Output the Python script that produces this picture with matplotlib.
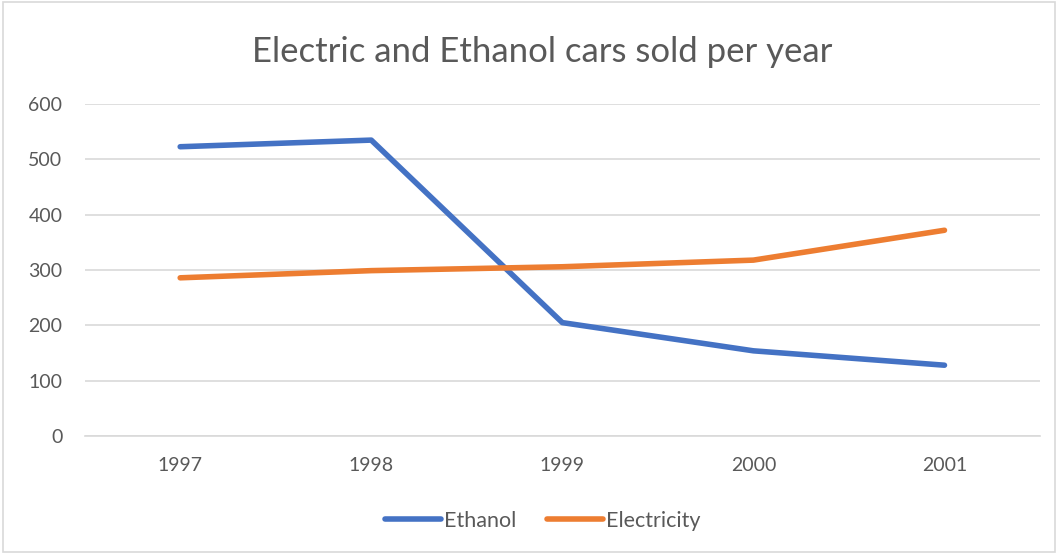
import matplotlib.pyplot as plt
from matplotlib.patches import Rectangle

# Yearly sales
years = ["1997", "1998", "1999", "2000", "2001"]
ethanol = [523, 535, 205, 154, 128]
electricity = [286, 299, 306, 318, 372]

TEXT_GREY = "#595959"
GRID_GREY = "#d9d9d9"

plt.rcParams["font.family"] = ["Lato", "DejaVu Sans"]

fig = plt.figure(figsize=(10.58, 5.54), dpi=100)
ax = fig.add_axes([0.080, 0.213, 0.903, 0.599])

x = range(len(years))
ax.plot(x, ethanol, color="#4472c4", linewidth=4, solid_capstyle="round",
        solid_joinstyle="round", label="Ethanol")
ax.plot(x, electricity, color="#ed7d31", linewidth=4, solid_capstyle="round",
        solid_joinstyle="round", label="Electricity")

ax.set_xlim(-0.5, len(years) - 0.5)
ax.set_ylim(0, 600)
ax.set_yticks(range(0, 601, 100))
ax.set_xticks(list(x))
ax.set_xticklabels(years)

ax.grid(axis="y", color=GRID_GREY, linewidth=1.2)
ax.set_axisbelow(True)
for side in ["top", "right", "left"]:
    ax.spines[side].set_visible(False)
ax.spines["bottom"].set_color(GRID_GREY)
ax.spines["bottom"].set_linewidth(1.2)
ax.tick_params(length=0, colors=TEXT_GREY, labelsize=14)
ax.tick_params(axis="x", pad=15)
ax.tick_params(axis="y", pad=16)

fig.text(0.512, 0.907, "Electric and Ethanol cars sold per year",
         ha="center", va="center", fontsize=25, color=TEXT_GREY)

leg = fig.legend(loc="center", bbox_to_anchor=(0.513, 0.06), ncol=2,
                 frameon=False, fontsize=15.5, handlelength=2.6,
                 handletextpad=0.15, columnspacing=1.4)
for t in leg.get_texts():
    t.set_color(TEXT_GREY)

# chart area border
fig.patches.append(Rectangle((0.003, 0.003), 0.994, 0.994, transform=fig.transFigure,
                             fill=False, edgecolor="#d9d9d9", linewidth=1.2))

fig.savefig("out.png", dpi=100)
